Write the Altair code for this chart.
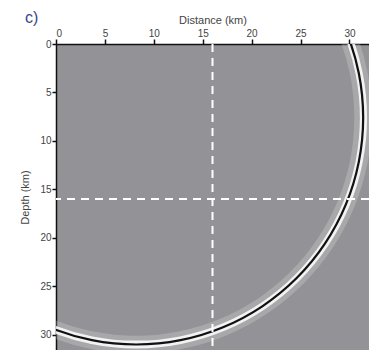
import altair as alt
import pandas as pd

# Wavefront circle (km): centre and radius
center_x = [8.2]
center_y = [7.6]
radius_km = [23.2]

# Dashed guide lines (km)
guide_x = [16]
guide_y = [16]

x_ticks = [0, 5, 10, 15, 20, 25, 30]
y_ticks = [0, 5, 10, 15, 20, 25, 30]

X_MAX = 32
Y_MAX = 31.6
W, H = 313, 306

font = "Liberation Sans"

circle = pd.DataFrame({"cx": center_x, "cy": center_y, "r": radius_km})
xs = alt.Scale(domain=[0, X_MAX], nice=False, zero=False)
ys = alt.Scale(domain=[0, Y_MAX], nice=False, zero=False, reverse=True)
rs = alt.Scale(type="linear", domain=[0, X_MAX], range=[0, W], zero=True)

x_axis = alt.Axis(orient="top", values=x_ticks, grid=False, domainColor="#111",
                  domainWidth=1.5, tickColor="#111", tickWidth=1.5, tickSize=5,
                  labelFont=font, labelFontSize=10, labelColor="#444",
                  labelPadding=1, titleFont=font, titleFontSize=11,
                  titleFontWeight="normal", titleColor="#444", titlePadding=3)
y_axis = alt.Axis(orient="left", values=y_ticks, grid=False, domainColor="#111",
                  domainWidth=1.5, tickColor="#111", tickWidth=1.5, tickSize=4,
                  labelFont=font, labelFontSize=10, labelColor="#444",
                  labelPadding=1, titleFont=font, titleFontSize=11,
                  titleFontWeight="normal", titleColor="#444", titlePadding=9)

X_TITLE = "Distance (km)"
Y_TITLE = "Depth (km)"

base = alt.Chart(circle)


def ring(half_width, color, opacity):
    return base.transform_calculate(
        r_in=f"datum.r - {half_width}", r_out=f"datum.r + {half_width}"
    ).mark_arc(clip=True, color=color, opacity=opacity, strokeWidth=0).encode(
        x=alt.X("cx:Q", scale=xs, axis=x_axis, title=X_TITLE),
        y=alt.Y("cy:Q", scale=ys, axis=y_axis, title=Y_TITLE),
        radius=alt.Radius("r_out:Q", scale=rs),
        radius2="r_in:Q",
        theta=alt.value(0),
        theta2=alt.value(6.2832),
    )


vline = alt.Chart(pd.DataFrame({"gx": guide_x})).mark_rule(
    color="white", strokeWidth=2, strokeDash=[8, 6]
).encode(x=alt.X("gx:Q", scale=xs, axis=x_axis, title=X_TITLE))

hline = alt.Chart(pd.DataFrame({"gy": guide_y})).mark_rule(
    color="white", strokeWidth=2, strokeDash=[8, 6]
).encode(y=alt.Y("gy:Q", scale=ys, axis=y_axis, title=Y_TITLE))

label = alt.Chart(pd.DataFrame({"t": ["c)"]})).mark_text(
    font="Liberation Sans", fontSize=16, color="#3a4785", align="left", baseline="middle"
).encode(x=alt.value(-31), y=alt.value(-26), text="t:N")

chart = alt.layer(
    ring(0.9, "white", 0.2),
    ring(0.4, "white", 0.85),
    ring(0.11, "#111111", 1.0),
    vline,
    hline,
    label,
).properties(
    width=W, height=H,
    autosize=alt.AutoSizeParams(type="none"),
    padding={"left": 56, "top": 44, "right": 0, "bottom": 0},
).configure_view(fill="#939397", stroke=None)

chart.save("out.html", embed_options={"renderer": "svg", "actions": False})
